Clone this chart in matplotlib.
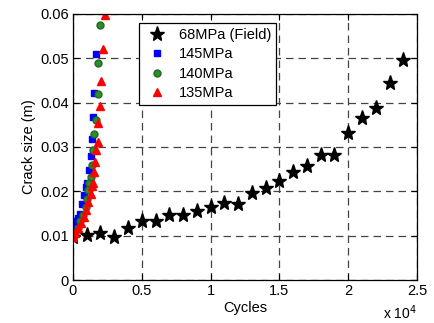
import matplotlib
matplotlib.use("Agg")
import matplotlib.pyplot as plt

plt.rcParams['font.family'] = ['Liberation Sans', 'DejaVu Sans']

# Field data (68 MPa)
field_cycles = [0, 1000, 2000, 3000, 4000, 5000, 6000, 7000, 8000, 9000, 10000, 11000,
                12000, 13000, 14000, 15000, 16000, 17000, 18000, 19000, 20000, 21000,
                22000, 23000, 24000]
field_crack = [0.0096, 0.0102, 0.0105, 0.0098, 0.0118, 0.0132, 0.0132, 0.0147, 0.0147,
               0.0156, 0.0164, 0.0173, 0.0171, 0.0196, 0.0207, 0.0224, 0.0243, 0.0256,
               0.0282, 0.0282, 0.0332, 0.0366, 0.0387, 0.0444, 0.0495]

# 145 MPa
c145 = [0, 120, 200, 360, 490, 680, 780, 920, 1020, 1160, 1290, 1380, 1450, 1530, 1650]
a145 = [0.0096, 0.0120, 0.0132, 0.0139, 0.0150, 0.0171, 0.0192, 0.0209, 0.0219, 0.0248,
        0.0279, 0.0317, 0.0367, 0.0421, 0.0509]

# 140 MPa
c140 = [0, 120, 360, 540, 730, 920, 1020, 1090, 1160, 1290, 1380, 1450, 1560, 1650, 1820,
        1850, 1990]
a140 = [0.0096, 0.0105, 0.0117, 0.0132, 0.0147, 0.0165, 0.0182, 0.0203, 0.0218, 0.0233,
        0.0259, 0.0294, 0.0329, 0.0360, 0.0420, 0.0490, 0.0575]

# 135 MPa
c135 = [0, 120, 360, 610, 780, 970, 1090, 1290, 1410, 1450, 1500, 1600, 1700, 1800, 1850,
        1990, 2060, 2180, 2300]
a135 = [0.0098, 0.0105, 0.0117, 0.0129, 0.0143, 0.0158, 0.0177, 0.0194, 0.0212, 0.0218,
        0.0243, 0.0265, 0.0294, 0.0312, 0.0353, 0.0393, 0.0448, 0.0520, 0.0598]

xticks = [0, 5000, 10000, 15000, 20000, 25000]
xticklabels = ["0", "0.5", "1", "1.5", "2", "2.5"]
yticks = [0, 0.01, 0.02, 0.03, 0.04, 0.05, 0.06]
yticklabels = ["0", "0.01", "0.02", "0.03", "0.04", "0.05", "0.06"]

FS = 10.5

fig = plt.figure(figsize=(4.34, 3.23), dpi=100)
ax = fig.add_axes([0.168, 0.133, 0.793, 0.824])

ax.plot(field_cycles, field_crack, linestyle='none', marker='*', markersize=11,
        color='black', label='68MPa (Field)')
ax.plot(c145, a145, linestyle='none', marker='s', markersize=4.5,
        color='#0000FF', label='145MPa')
ax.plot(c140, a140, linestyle='none', marker='o', markersize=5,
        markerfacecolor='#2E8B2E', markeredgecolor='#1F6B1F', label='140MPa')
ax.plot(c135, a135, linestyle='none', marker='^', markersize=5.5,
        color='#FF0000', label='135MPa')

ax.set_xlim(0, 25000)
ax.set_ylim(0, 0.06)
ax.set_xticks(xticks)
ax.set_xticklabels(xticklabels)
ax.set_yticks(yticks)
ax.set_yticklabels(yticklabels)
ax.tick_params(direction='in', top=True, right=True, labelsize=FS, length=4, width=0.8,
               pad=3)
ax.grid(True, linestyle=(0, (6, 4)), color='#444444', linewidth=0.9)
for s in ax.spines.values():
    s.set_linewidth(0.9)

ax.set_xlabel('Cycles', fontsize=FS, labelpad=2)
ax.set_ylabel('Crack size (m)', fontsize=FS, labelpad=3)
fig.text(383 / 434, 4 / 323, r'x 10$^4$', ha='left', va='baseline', fontsize=FS - 0.5)

leg = ax.legend(loc='upper left', bbox_to_anchor=(0.17, 0.993), fontsize=FS,
                frameon=True, fancybox=False, edgecolor='black', framealpha=1,
                handletextpad=0.6, borderpad=0.35, labelspacing=0.36, numpoints=1,
                markerscale=1.0, handlelength=1.8)
leg.get_frame().set_linewidth(0.9)

fig.savefig('out.png', dpi=100)
